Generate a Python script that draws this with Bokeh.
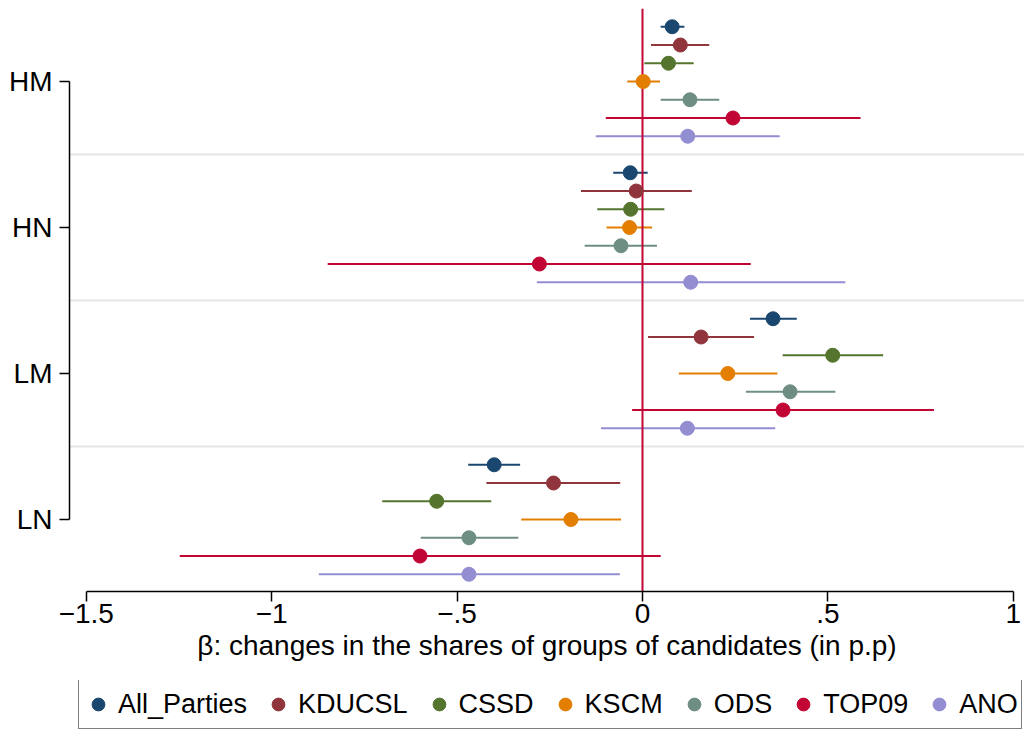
from bokeh.plotting import figure
from bokeh.layouts import column
from bokeh.models import FixedTicker, Legend, LegendItem, Range1d
from bokeh.embed import file_html
from bokeh.resources import INLINE

# ---- data ----
categories = ["HM", "HN", "LM", "LN"]
cat_pos = [3, 2, 1, 0]
parties = ["All_Parties", "KDUCSL", "CSSD", "KSCM", "ODS", "TOP09", "ANO"]
colors = ["#1a476f", "#90353b", "#55752f", "#e37e00", "#6e8e84", "#c10534", "#938dd2"]

# order of values: HM, HN, LM, LN
coef_all = [0.080, -0.033, 0.352, -0.400]
lo_all = [0.049, -0.079, 0.290, -0.470]
hi_all = [0.113, 0.014, 0.416, -0.330]

coef_kducsl = [0.102, -0.017, 0.158, -0.240]
lo_kducsl = [0.023, -0.166, 0.015, -0.421]
hi_kducsl = [0.180, 0.133, 0.301, -0.060]

coef_cssd = [0.070, -0.032, 0.513, -0.555]
lo_cssd = [0.005, -0.122, 0.378, -0.702]
hi_cssd = [0.138, 0.059, 0.649, -0.408]

coef_kscm = [0.002, -0.035, 0.230, -0.193]
lo_kscm = [-0.041, -0.097, 0.098, -0.327]
hi_kscm = [0.047, 0.026, 0.364, -0.058]

coef_ods = [0.128, -0.058, 0.398, -0.468]
lo_ods = [0.049, -0.156, 0.279, -0.598]
hi_ods = [0.207, 0.039, 0.520, -0.335]

coef_top09 = [0.244, -0.278, 0.379, -0.600]
lo_top09 = [-0.099, -0.849, -0.028, -1.248]
hi_top09 = [0.588, 0.292, 0.786, 0.049]

coef_ano = [0.122, 0.130, 0.121, -0.468]
lo_ano = [-0.126, -0.285, -0.112, -0.873]
hi_ano = [0.370, 0.547, 0.358, -0.061]

x_ticks = [-1.5, -1, -0.5, 0, 0.5, 1]
x_tick_labels = ["\u22121.5", "\u22121", "\u2212.5", "0", ".5", "1"]
x_title = "\u03b2: changes in the shares of groups of candidates (in p.p)"

series = [
    (coef_all, lo_all, hi_all),
    (coef_kducsl, lo_kducsl, hi_kducsl),
    (coef_cssd, lo_cssd, hi_cssd),
    (coef_kscm, lo_kscm, hi_kscm),
    (coef_ods, lo_ods, hi_ods),
    (coef_top09, lo_top09, hi_top09),
    (coef_ano, lo_ano, hi_ano),
]

FONT = "Liberation Sans"

p = figure(width=1024, height=680, output_backend="svg", toolbar_location=None,
           x_range=Range1d(-1.5453, 1.0302), y_range=Range1d(-0.493, 3.5),
           min_border_left=69, min_border_right=0, min_border_top=8,
           min_border_bottom=89)
p.outline_line_color = None
p.background_fill_color = "white"
p.border_fill_color = "white"

# separators between groups
p.xgrid.visible = False
p.ygrid.ticker = FixedTicker(ticks=[0.5, 1.5, 2.5])
p.ygrid.grid_line_color = "#e6e6e6"
p.ygrid.grid_line_width = 2

n = len(parties)
ys_all = []
for i, (coef, lo, hi) in enumerate(series):
    off = 0.125 * ((n - 1) / 2 - i)
    ys = [c + off for c in cat_pos]
    ys_all.append(ys)
    p.segment(x0=lo, x1=hi, y0=ys, y1=ys, line_color=colors[i], line_width=2.2)

p.vspan(x=[0], line_color="#c10534", line_width=2)

for i, (coef, lo, hi) in enumerate(series):
    p.scatter(x=coef, y=ys_all[i], size=14, fill_color=colors[i], line_color=colors[i])

# axes
for ax in (p.xaxis, p.yaxis):
    ax.axis_line_width = 1.5
    ax.axis_line_color = "black"
    ax.major_tick_line_width = 1.5
    ax.major_tick_line_color = "black"
    ax.major_tick_out = 10
    ax.major_tick_in = 0
    ax.minor_tick_line_color = None
    ax.major_label_text_font = FONT
    ax.major_label_text_font_size = "28px"
    ax.major_label_text_color = "black"

p.xaxis.ticker = FixedTicker(ticks=x_ticks)
p.xaxis.major_label_overrides = {t: l for t, l in zip(x_ticks, x_tick_labels)}
p.xaxis.bounds = (-1.5, 1)
p.xaxis.major_label_standoff = 2
p.xaxis.axis_label = x_title
p.xaxis.axis_label_text_font = FONT
p.xaxis.axis_label_text_font_size = "28px"
p.xaxis.axis_label_text_font_style = "normal"
p.xaxis.axis_label_text_color = "black"
p.xaxis.axis_label_standoff = 4

p.yaxis.ticker = FixedTicker(ticks=cat_pos)
p.yaxis.major_label_overrides = {c: l for c, l in zip(cat_pos, categories)}
p.yaxis.bounds = (0, 3)
p.yaxis.major_label_standoff = 7

# ---- legend strip below the plot ----
# proxy renderers carry the same data but sit outside this strip's view,
# so only their legend glyphs are shown
pl = figure(width=1024, height=50, output_backend="svg", toolbar_location=None,
            x_range=Range1d(-1.5453, 1.0302), y_range=Range1d(10, 11),
            min_border_left=0, min_border_right=0, min_border_top=0, min_border_bottom=0)
pl.axis.visible = False
pl.grid.visible = False
pl.outline_line_color = None
pl.border_fill_color = "white"
pl.background_fill_color = "white"
proxies = [pl.scatter(x=series[i][0], y=ys_all[i], size=14,
                      fill_color=colors[i], line_color=colors[i])
           for i in range(n)]

legend = Legend(
    items=[LegendItem(label=parties[i], renderers=[proxies[i]]) for i in range(n)],
    orientation="horizontal", location=(9, 1),
    glyph_width=32, glyph_height=42, label_standoff=4, spacing=15, padding=3, margin=0,
    border_line_color="black", border_line_width=1.5, background_fill_color="white",
    label_text_font=FONT, label_text_font_size="27px", label_text_color="black",
)
pl.add_layout(legend, "center")

layout = column(p, pl, spacing=0)
open("out.html", "w").write(file_html(layout, INLINE))
